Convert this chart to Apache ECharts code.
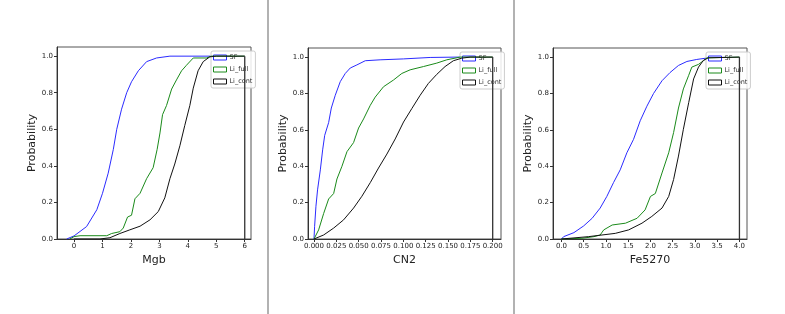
<!DOCTYPE html>
<html><head><meta charset="utf-8">
<script src="https://cdn.jsdelivr.net/npm/echarts@6/dist/echarts.min.js"></script>
<style>html,body{margin:0;padding:0;background:#fff}#c{width:785px;height:314px}</style>
</head><body><div id="c"></div>
<script>
// ---- data ----
var seriesNames = ['SF', 'Li_full', 'Li_cont'];
var axisNames = ['Mgb', 'CN2', 'Fe5270'];

// Mgb panel
var mgbSF_x = [-0.26, 0, 0.44, 0.8, 1.0, 1.2, 1.38, 1.5, 1.67, 1.85, 2.02, 2.26, 2.55, 2.9, 3.37, 6.0];
var mgbSF_y = [0, 0.017, 0.068, 0.16, 0.25, 0.36, 0.49, 0.60, 0.71, 0.80, 0.86, 0.92, 0.97, 0.99, 1.0, 1.0];
var mgbFull_x = [-0.15, 0, 0.21, 1.15, 1.32, 1.61, 1.73, 1.88, 2.02, 2.14, 2.32, 2.55, 2.78, 2.92, 3.02, 3.11, 3.25, 3.43, 3.6, 3.78, 3.95, 4.19, 4.65, 4.83, 6.0];
var mgbFull_y = [0, 0.013, 0.018, 0.018, 0.03, 0.04, 0.06, 0.12, 0.13, 0.22, 0.25, 0.33, 0.39, 0.49, 0.58, 0.68, 0.73, 0.82, 0.87, 0.92, 0.95, 0.99, 0.99, 1.0, 1.0];
var mgbCont_x = [0, 0.91, 1.26, 1.61, 1.96, 2.32, 2.67, 2.96, 3.19, 3.37, 3.54, 3.72, 3.89, 4.07, 4.19, 4.36, 4.54, 4.77, 5.0, 6.0];
var mgbCont_y = [0, 0, 0.007, 0.03, 0.05, 0.07, 0.105, 0.15, 0.225, 0.33, 0.41, 0.51, 0.62, 0.73, 0.825, 0.92, 0.97, 0.996, 1.0, 1.0];

// CN2 panel
var cn2SF_x = [0, 0.0007, 0.0022, 0.004, 0.0071, 0.0097, 0.012, 0.0164, 0.0194, 0.0238, 0.0294, 0.035, 0.0406, 0.048, 0.0574, 0.074, 0.100, 0.13, 0.16, 0.2];
var cn2SF_y = [0, 0.07, 0.18, 0.27, 0.38, 0.49, 0.57, 0.64, 0.72, 0.79, 0.865, 0.91, 0.94, 0.957, 0.98, 0.985, 0.99, 0.998, 1.0, 1.0];
var cn2Full_x = [0, 0.0052, 0.0108, 0.0164, 0.022, 0.0257, 0.0313, 0.0369, 0.0443, 0.0499, 0.0555, 0.063, 0.0685, 0.0778, 0.089, 0.0983, 0.1076, 0.1225, 0.1374, 0.1486, 0.1635, 0.2];
var cn2Full_y = [0, 0.05, 0.14, 0.22, 0.25, 0.33, 0.40, 0.48, 0.53, 0.61, 0.66, 0.735, 0.78, 0.837, 0.874, 0.91, 0.93, 0.948, 0.967, 0.985, 1.0, 1.0];
var cn2Cont_x = [0, 0.0108, 0.022, 0.0331, 0.0443, 0.0536, 0.063, 0.0722, 0.0816, 0.0909, 0.1002, 0.1095, 0.1188, 0.128, 0.1374, 0.1467, 0.156, 0.1654, 0.1747, 0.2];
var cn2Cont_y = [0, 0.022, 0.06, 0.105, 0.17, 0.235, 0.31, 0.39, 0.467, 0.55, 0.643, 0.717, 0.79, 0.855, 0.905, 0.948, 0.98, 0.994, 1.0, 1.0];

// Fe5270 panel
var feSF_x = [0, 0.05, 0.28, 0.5, 0.69, 0.87, 1.02, 1.17, 1.32, 1.47, 1.62, 1.77, 1.92, 2.07, 2.26, 2.44, 2.63, 2.82, 3.04, 3.3, 3.6, 4.0];
var feSF_y = [0, 0.013, 0.035, 0.072, 0.114, 0.17, 0.234, 0.31, 0.38, 0.474, 0.548, 0.65, 0.73, 0.80, 0.87, 0.915, 0.954, 0.976, 0.987, 0.996, 1.0, 1.0];
var feFull_x = [0, 0.46, 0.73, 0.87, 0.95, 1.14, 1.44, 1.70, 1.88, 2.0, 2.11, 2.26, 2.41, 2.52, 2.63, 2.74, 2.86, 2.93, 3.08, 3.19, 3.27, 4.0];
var feFull_y = [0, 0.004, 0.013, 0.022, 0.05, 0.077, 0.087, 0.114, 0.16, 0.234, 0.25, 0.363, 0.474, 0.585, 0.72, 0.825, 0.90, 0.945, 0.96, 0.98, 0.996, 1.0];
var feCont_x = [0, 0.61, 1.21, 1.51, 1.81, 2.03, 2.26, 2.41, 2.52, 2.63, 2.74, 2.86, 2.97, 3.08, 3.19, 3.3, 4.0];
var feCont_y = [0, 0.013, 0.031, 0.05, 0.087, 0.124, 0.17, 0.234, 0.327, 0.456, 0.603, 0.75, 0.88, 0.945, 0.982, 0.996, 1.0];

// histogram right edges (vertical step lines)
var edgeX = [6.0, 0.2, 4.0];

// tick labels
var mgbTicks = [0, 1, 2, 3, 4, 5, 6];
var mgbTickLabels = ['0', '1', '2', '3', '4', '5', '6'];
var cn2Ticks = [0, 0.025, 0.05, 0.075, 0.1, 0.125, 0.15, 0.175, 0.2];
var cn2TickLabels = ['0.000', '0.025', '0.050', '0.075', '0.100', '0.125', '0.150', '0.175', '0.200'];
var feTicks = [0, 0.5, 1, 1.5, 2, 2.5, 3, 3.5, 4];
var feTickLabels = ['0.0', '0.5', '1.0', '1.5', '2.0', '2.5', '3.0', '3.5', '4.0'];
var probTicks = [0, 0.2, 0.4, 0.6, 0.8, 1.0];
var probTickLabels = ['0.0', '0.2', '0.4', '0.6', '0.8', '1.0'];

// ---- build ----
function pairs(xs, ys) { return xs.map(function (x, i) { return [x, ys[i]]; }); }
var colors = ['#2b2bff', '#1a8a1a', '#111111'];
var FONT = 'DejaVu Sans';

var panels = [
  {sets: [[mgbSF_x, mgbSF_y], [mgbFull_x, mgbFull_y], [mgbCont_x, mgbCont_y]], ticks: mgbTicks, labels: mgbTickLabels,
   grid: {left: 57, top: 47, width: 194, height: 192}, xmin: -0.6, xmax: 6.22, yGap: 13, legend: {left: 211, top: 51}},
  {sets: [[cn2SF_x, cn2SF_y], [cn2Full_x, cn2Full_y], [cn2Cont_x, cn2Cont_y]], ticks: cn2Ticks, labels: cn2TickLabels,
   grid: {left: 308, top: 48, width: 193, height: 191}, xmin: -0.0067, xmax: 0.2093, yGap: 17, legend: {left: 460, top: 52}},
  {sets: [[feSF_x, feSF_y], [feFull_x, feFull_y], [feCont_x, feCont_y]], ticks: feTicks, labels: feTickLabels,
   grid: {left: 553, top: 48, width: 194, height: 191}, xmin: -0.19, xmax: 4.17, yGap: 14, legend: {left: 706, top: 52}}
];

var grids = [], xAxes = [], yAxes = [], series = [], legends = [];
panels.forEach(function (p, gi) {
  grids.push(Object.assign({show: true, borderColor: '#555', borderWidth: 1, backgroundColor: '#fff'}, p.grid));
  xAxes.push({
    type: 'value', gridIndex: gi, min: p.xmin, max: p.xmax,
    name: axisNames[gi], nameLocation: 'middle', nameGap: 14,
    nameTextStyle: {fontFamily: FONT, fontSize: 11, color: '#222'},
    splitLine: {show: false},
    axisLine: {onZero: false, lineStyle: {color: '#333'}},
    axisTick: {length: 3, customValues: p.ticks, lineStyle: {color: '#333'}},
    axisLabel: {customValues: p.ticks, fontFamily: FONT, fontSize: 7, color: '#222', margin: 4,
      formatter: (function (t, l) { return function (v) { var i = t.indexOf(v); return i >= 0 ? l[i] : ''; }; })(p.ticks, p.labels)}
  });
  yAxes.push({
    type: 'value', gridIndex: gi, min: 0, max: 1.05,
    name: 'Probability', nameLocation: 'middle', nameGap: p.yGap,
    nameTextStyle: {fontFamily: FONT, fontSize: 11, color: '#222'},
    splitLine: {show: false},
    axisLine: {show: true, onZero: false, lineStyle: {color: '#333'}},
    axisTick: {show: true, length: 3, customValues: probTicks, lineStyle: {color: '#333'}},
    axisLabel: {customValues: probTicks, fontFamily: FONT, fontSize: 7, color: '#222', margin: 4,
      formatter: function (v) { var i = probTicks.indexOf(v); return i >= 0 ? probTickLabels[i] : ''; }}
  });
  p.sets.forEach(function (s, si) {
    series.push({
      type: 'line', name: seriesNames[si], xAxisIndex: gi, yAxisIndex: gi,
      data: pairs(s[0], s[1]), showSymbol: false, symbol: 'none', silent: true, animation: false,
      lineStyle: {color: colors[si], width: 1}, itemStyle: {color: colors[si]}, z: 3 + si
    });
  });
  series.push({
    type: 'line', name: 'edge', xAxisIndex: gi, yAxisIndex: gi,
    data: [[edgeX[gi], 0], [edgeX[gi], 1]], showSymbol: false, symbol: 'none', silent: true, animation: false,
    lineStyle: {color: '#333', width: 1.3}, z: 6
  });
  legends.push({
    left: p.legend.left, top: p.legend.top, orient: 'vertical', itemGap: 5,
    itemWidth: 13, itemHeight: 5, icon: 'rect', padding: [3, 3, 3, 2],
    backgroundColor: 'rgba(255,255,255,0.85)', borderColor: '#ccc', borderWidth: 1, borderRadius: 2,
    textStyle: {fontFamily: FONT, fontSize: 6.5, color: '#333', padding: [0, 0, 0, -2]},
    selectedMode: false,
    data: seriesNames.map(function (n, i) {
      return {name: n, itemStyle: {color: '#fff', borderColor: colors[i], borderWidth: 1}};
    })
  });
});

var chart = echarts.init(document.getElementById('c'), null, {renderer: 'canvas'});
chart.setOption({
  animation: false,
  backgroundColor: '#fff',
  grid: grids, xAxis: xAxes, yAxis: yAxes, series: series, legend: legends,
  graphic: [
    {type: 'line', shape: {x1: 268, y1: 0, x2: 268, y2: 314}, style: {stroke: '#999', lineWidth: 1.5}},
    {type: 'line', shape: {x1: 514, y1: 0, x2: 514, y2: 314}, style: {stroke: '#999', lineWidth: 1.5}}
  ]
});
</script>
</body></html>
